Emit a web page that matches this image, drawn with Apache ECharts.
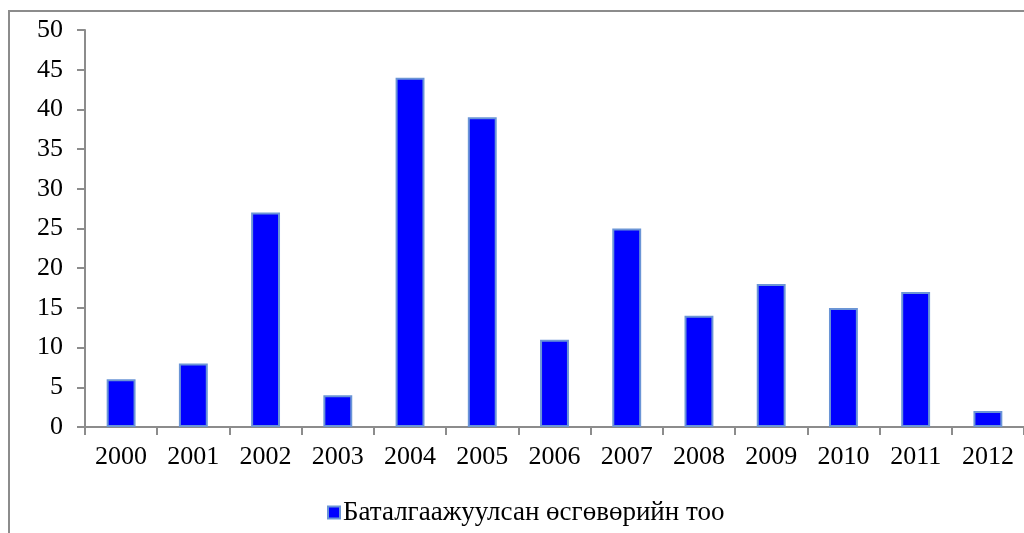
<!DOCTYPE html>
<html><head><meta charset="utf-8">
<script src="https://cdn.jsdelivr.net/npm/echarts@6/dist/echarts.min.js"></script>
<style>html,body{margin:0;padding:0;background:#fff}#c{width:1024px;height:533px;position:relative}
#frame{position:absolute;left:8px;top:10px;width:1100px;height:600px;border:2px solid #8c8c8c;box-sizing:border-box;pointer-events:none}</style>
</head><body><div id="c"></div><div id="frame"></div>
<script>
const years = ['2000','2001','2002','2003','2004','2005','2006','2007','2008','2009','2010','2011','2012'];
const counts = [6, 8, 27, 4, 44, 39, 11, 25, 14, 18, 15, 17, 2];
const seriesName = 'Баталгаажуулсан өсгөвөрийн тоо';
const font = '"Liberation Serif", "Times New Roman", serif';
const chart = echarts.init(document.getElementById('c'), null, {renderer:'canvas'});
chart.setOption({
  animation:false,
  grid:{left:85, top:30, width:940, height:397, containLabel:false},
  legend:{bottom:2, left:322, itemWidth:12, itemHeight:12, itemGap:6,
    icon:'rect', textStyle:{fontFamily:font, fontSize:27, color:'#000', padding:[0,0,0,-2]}, data:[seriesName]},
  xAxis:{type:'category', data:years,
    axisLine:{lineStyle:{color:'#8c8c8c', width:2}},
    axisTick:{show:true, length:8, lineStyle:{color:'#8c8c8c', width:2}},
    axisLabel:{fontFamily:font, fontSize:26, color:'#000', margin:17}},
  yAxis:{type:'value', min:0, max:50, interval:5,
    axisLine:{show:true, lineStyle:{color:'#8c8c8c', width:2}},
    axisTick:{show:true, length:8, lineStyle:{color:'#8c8c8c', width:2}},
    splitLine:{show:false},
    axisLabel:{fontFamily:font, fontSize:26, color:'#000', margin:22}},
  series:[{name:seriesName, type:'bar', data:counts, barWidth:'40%',
    itemStyle:{color:'#0000ff', borderColor:'#6b95d6', borderWidth:2}}]
});
</script></body></html>
